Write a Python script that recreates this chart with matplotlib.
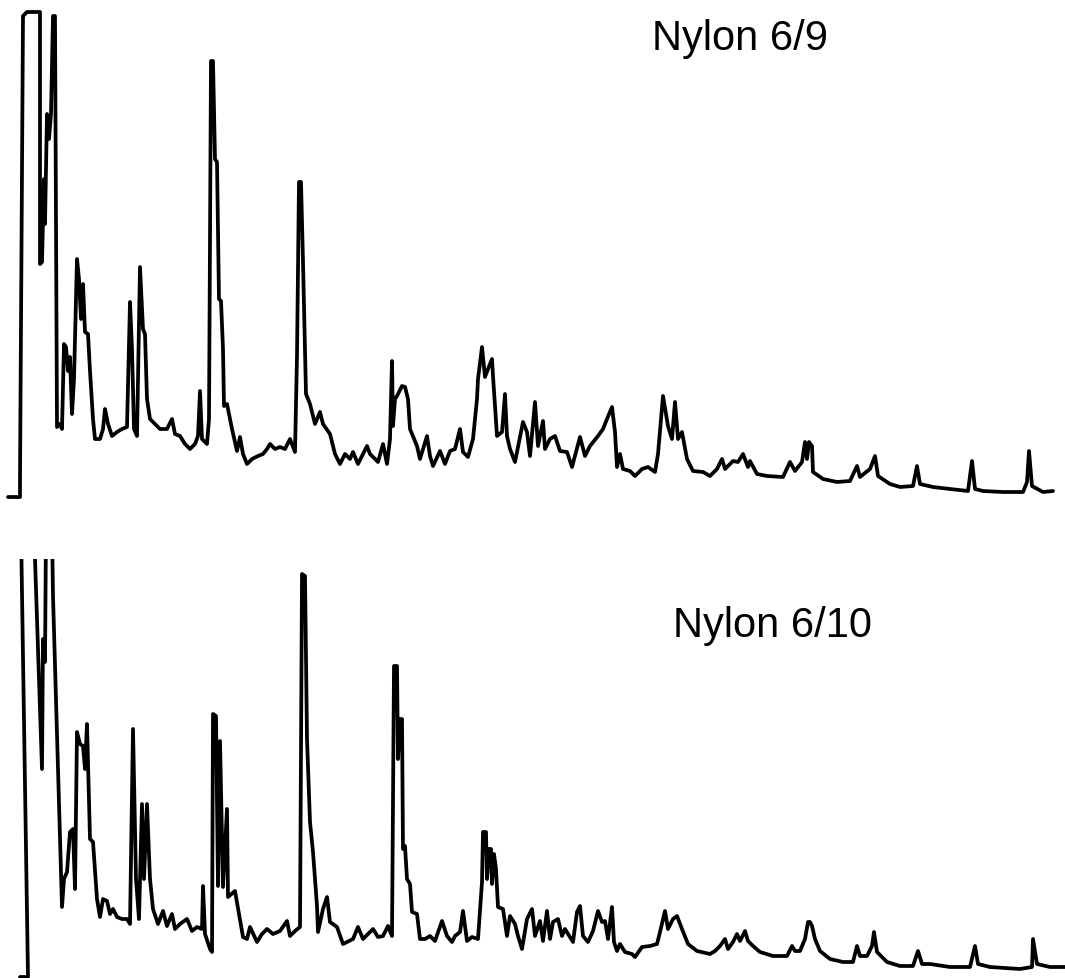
import matplotlib.pyplot as plt

# pyrolysis GC traces (scan number vs detector response)
scan_69 = [8, 20, 20, 23, 27, 40, 40, 42, 44, 45, 47, 49, 51, 53, 55, 57, 60, 62, 64, 66,
           68, 70, 72, 74, 77, 79, 81, 83, 85, 88, 90, 93, 95, 100, 103, 105, 108, 112, 117, 122,
           127, 130, 132, 134, 137, 140, 143, 145, 147, 150, 155, 160, 167, 172, 175, 180, 185, 190, 195, 198,
           200, 202, 207, 209, 211, 213, 215, 217, 219, 221, 223, 224, 227, 232, 237, 240, 243, 247, 252, 258,
           263, 267, 270, 275, 280, 285, 290, 295, 297, 299, 301, 303, 306, 310, 315, 320, 323, 330, 335, 340,
           345, 350, 353, 358, 367, 370, 378, 383, 387, 390, 392, 393, 395, 397, 402, 405, 408, 410, 417, 420,
           427, 430, 433, 440, 445, 450, 455, 460, 463, 468, 473, 477, 478, 482, 485, 488, 492, 493, 497, 502,
           505, 507, 510, 515, 523, 527, 530, 535, 538, 543, 545, 550, 555, 560, 567, 572, 580, 585, 590, 598,
           603, 607, 612, 615, 617, 620, 623, 630, 635, 642, 648, 655, 658, 663, 668, 672, 675, 678, 682, 687,
           693, 703, 710, 717, 722, 725, 733, 738, 743, 748, 750, 757, 767, 783, 790, 795, 802, 805, 807, 809,
           812, 813, 823, 837, 850, 857, 860, 870, 875, 878, 890, 900, 913, 917, 920, 933, 950, 968, 972, 975,
           983, 1003, 1023, 1027, 1029, 1032, 1043, 1053]
resp_69 = [2, 2, 20, 483, 487, 487, 235, 237, 320, 275, 385, 360, 385, 483, 483, 72, 75, 70, 155, 152,
           128, 142, 85, 120, 240, 220, 180, 215, 167, 165, 128, 80, 60, 60, 70, 90, 75, 63, 67, 70,
           72, 197, 150, 70, 63, 232, 170, 165, 100, 80, 75, 70, 70, 80, 65, 63, 55, 50, 55, 63,
           108, 60, 55, 80, 438, 438, 340, 337, 200, 198, 150, 93, 95, 70, 48, 62, 45, 35, 40, 43,
           45, 50, 55, 50, 52, 50, 60, 47, 143, 317, 317, 237, 105, 95, 75, 87, 75, 65, 45, 35,
           45, 40, 47, 35, 53, 45, 37, 55, 35, 60, 138, 73, 100, 103, 113, 112, 100, 70, 53, 40,
           63, 43, 33, 48, 35, 48, 50, 70, 47, 42, 60, 100, 120, 152, 122, 130, 140, 123, 63, 67,
           105, 63, 50, 37, 77, 67, 43, 97, 53, 78, 50, 60, 63, 48, 47, 32, 62, 43, 53, 63,
           70, 80, 92, 67, 32, 45, 30, 28, 23, 30, 32, 27, 45, 103, 73, 60, 97, 60, 67, 40,
           28, 27, 23, 30, 40, 30, 38, 37, 45, 32, 38, 25, 23, 22, 37, 28, 37, 57, 40, 57,
           53, 27, 20, 17, 18, 33, 22, 30, 43, 23, 15, 12, 13, 33, 15, 12, 10, 8, 38, 10,
           8, 7, 7, 17, 48, 13, 7, 8]

scan_610 = [20, 28, 21, 34, 42, 43, 45, 46, 52, 53, 62, 64, 67, 70, 73, 75, 77, 80, 83, 85,
            87, 90, 93, 97, 100, 103, 107, 110, 113, 117, 122, 127, 130, 133, 136, 139, 142, 144, 147, 150,
            153, 158, 163, 167, 172, 175, 180, 187, 192, 197, 202, 203, 205, 210, 212, 213, 216, 218, 220, 223,
            227, 228, 235, 243, 247, 250, 257, 262, 267, 273, 280, 287, 290, 295, 300, 302, 305, 307, 310, 313,
            317, 318, 323, 327, 330, 337, 343, 353, 358, 363, 373, 378, 383, 388, 392, 394, 397, 398, 400, 402,
            403, 405, 407, 410, 412, 417, 420, 425, 430, 435, 442, 447, 452, 455, 460, 463, 467, 472, 478, 482,
            483, 486, 487, 489, 491, 492, 494, 496, 498, 503, 507, 510, 515, 518, 522, 527, 532, 535, 540, 543,
            547, 550, 553, 558, 562, 565, 570, 573, 577, 580, 583, 588, 593, 598, 602, 605, 608, 612, 614, 617,
            620, 625, 632, 635, 642, 650, 657, 660, 665, 668, 673, 677, 682, 688, 697, 710, 715, 720, 725, 728,
            733, 737, 740, 745, 748, 753, 760, 773, 787, 792, 795, 800, 805, 808, 810, 812, 815, 820, 830, 843,
            853, 857, 860, 867, 872, 874, 877, 887, 900, 913, 918, 922, 930, 950, 970, 975, 978, 990, 1020, 1032,
            1033, 1037, 1050, 1065]
resp_610 = [1, 1, 449, 449, 209, 339, 316, 449, 449, 382, 71, 99, 106, 146, 149, 89, 246, 234, 232, 209,
            254, 139, 136, 79, 61, 79, 77, 64, 69, 61, 59, 59, 54, 249, 99, 59, 174, 99, 174, 99,
            69, 54, 67, 52, 64, 49, 54, 59, 47, 51, 49, 92, 44, 29, 26, 264, 262, 92, 237, 91,
            169, 81, 87, 41, 39, 51, 36, 44, 49, 44, 47, 57, 42, 47, 51, 404, 402, 239, 156, 126,
            72, 46, 69, 81, 56, 51, 34, 39, 51, 39, 49, 41, 42, 52, 42, 312, 312, 219, 259, 259,
            129, 132, 99, 94, 66, 64, 39, 39, 42, 37, 57, 42, 36, 42, 46, 67, 37, 41, 39, 96,
            146, 146, 99, 129, 129, 94, 124, 109, 71, 69, 42, 62, 54, 42, 29, 59, 69, 42, 57, 37,
            67, 39, 56, 59, 42, 49, 41, 36, 66, 72, 42, 36, 47, 67, 56, 57, 39, 71, 36, 27,
            34, 26, 24, 21, 31, 32, 34, 46, 67, 49, 59, 62, 49, 34, 27, 24, 27, 32, 39, 29,
            36, 44, 37, 47, 37, 32, 26, 22, 22, 32, 27, 27, 39, 56, 56, 52, 39, 27, 19, 16,
            16, 32, 22, 22, 32, 46, 26, 16, 12, 12, 27, 14, 14, 11, 11, 32, 14, 11, 9, 11,
            39, 14, 11, 11]

fig = plt.figure(figsize=(10.65, 9.79), dpi=100)
ax1 = fig.add_axes([0, 1 - 500 / 979, 1, 500 / 979])
ax2 = fig.add_axes([0, 0, 1, 419 / 979])

for ax, x, y, top, name, lx, ly in [(ax1, scan_69, resp_69, 500, 'Nylon 6/9', 652, 450),
                                     (ax2, scan_610, resp_610, 419, 'Nylon 6/10', 673, 342)]:
    ax.plot(x, y, color='black', lw=2.7, solid_joinstyle='round', solid_capstyle='round')
    ax.set_xlim(0, 1065)
    ax.set_ylim(0, top)
    ax.axis('off')
    ax.text(lx, ly, name, fontsize=30, family=['Liberation Sans', 'DejaVu Sans'],
            ha='left', va='baseline')

fig.savefig('out.png', dpi=100, facecolor='white')
